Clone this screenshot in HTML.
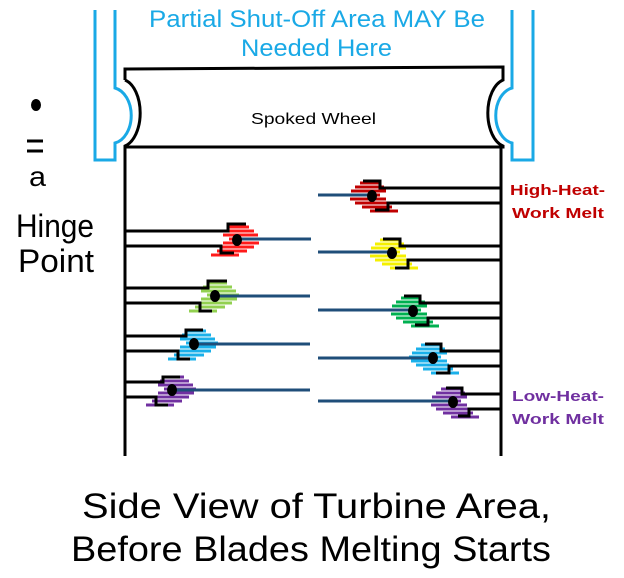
<!DOCTYPE html>
<html><head><meta charset="utf-8"><style>
html,body{margin:0;padding:0;background:#fff;}
svg{display:block;}
</style></head><body>
<svg width="624" height="578" viewBox="0 0 624 578" xmlns="http://www.w3.org/2000/svg" font-family="Liberation Sans, Arial, sans-serif">
<defs>
<g id="h" stroke-width="3">
<line x1="-8" y1="-13" x2="12" y2="-13"/>
<line x1="-12" y1="-9" x2="17" y2="-9"/>
<line x1="-14" y1="-5" x2="21" y2="-5"/>
<line x1="-8" y1="-1" x2="24" y2="-1"/>
<line x1="-14" y1="3" x2="22" y2="3"/>
<line x1="-16" y1="7" x2="17" y2="7"/>
<line x1="-20" y1="11" x2="10" y2="11"/>
<line x1="-26" y1="15" x2="2" y2="15"/>
</g>
</defs>
<g fill="none" stroke="#1aa9e6" stroke-width="3">
<path d="M95 10 V160 H115 V143 A20 28 0 0 0 115 88 V10"/>
<path d="M533 10 V160 H512 V143 A20 28 0 0 1 512 88 V10"/>
</g>
<g fill="none" stroke="#000" stroke-width="3">
<path d="M125 80 V69 L503 67 V80 A20 34 0 0 0 503 146 V147 H125 V146 A20 34 0 0 0 125 80"/>
<line x1="125" y1="147" x2="125" y2="456"/>
<line x1="501" y1="147" x2="501" y2="456"/>
</g>
<use href="#h" x="237" y="240" stroke="#ff1a1a"/>
<use href="#h" x="215" y="296" stroke="#92d050"/>
<use href="#h" x="194" y="344" stroke="#1ab0ea"/>
<use href="#h" x="172" y="390" stroke="#7030a0"/>
<g transform="translate(372,196) scale(-1,1)"><use href="#h" stroke="#c00000"/></g>
<g transform="translate(392,253) scale(-1,1)"><use href="#h" stroke="#f5f000"/></g>
<g transform="translate(413,311) scale(-1,1)"><use href="#h" stroke="#00b050"/></g>
<g transform="translate(433,358) scale(-1,1)"><use href="#h" stroke="#1ab0ea"/></g>
<g transform="translate(453,402) scale(-1,1)"><use href="#h" stroke="#7030a0"/></g>
<g stroke="#1f4e79" stroke-width="3">
<line x1="237" y1="239" x2="311" y2="239"/>
<line x1="215" y1="296" x2="310" y2="296"/>
<line x1="194" y1="344" x2="310" y2="344"/>
<line x1="172" y1="390" x2="310" y2="390"/>
<line x1="318" y1="195" x2="372" y2="195"/>
<line x1="318" y1="252" x2="392" y2="252"/>
<line x1="318" y1="310" x2="413" y2="310"/>
<line x1="318" y1="358" x2="433" y2="358"/>
<line x1="318" y1="401" x2="453" y2="401"/>
</g>
<g fill="none" stroke="#000" stroke-width="3">
<path d="M125 231 H228 V224 H246"/><path d="M125 246 H221 V253 H234"/>
<path d="M125 288 H208 V281 H227"/><path d="M125 303 H200 V311 H212"/>
<path d="M125 336 H186 V330 H203"/><path d="M125 351 H178 V359 H190"/>
<path d="M125 382 H163 V377 H180"/><path d="M125 397 H156 V405 H168"/>
<path d="M501 188 H380 V181 H363"/><path d="M501 203 H388 V210 H375"/>
<path d="M501 246 H400 V239 H383"/><path d="M501 260 H408 V268 H395"/>
<path d="M501 303 H420 V296 H404"/><path d="M501 318 H428 V325 H415"/>
<path d="M501 351 H441 V344 H425"/><path d="M501 366 H449 V373 H436"/>
<path d="M501 394 H462 V388 H446"/><path d="M501 409 H469 V416 H458"/>
</g>
<g fill="#000">
<ellipse cx="237" cy="240" rx="5" ry="6"/>
<ellipse cx="215" cy="296" rx="5" ry="6"/>
<ellipse cx="194" cy="344" rx="5" ry="6"/>
<ellipse cx="172" cy="390" rx="5" ry="6"/>
<ellipse cx="372" cy="196" rx="5" ry="6"/>
<ellipse cx="392" cy="253" rx="5" ry="6"/>
<ellipse cx="413" cy="311" rx="5" ry="6"/>
<ellipse cx="433" cy="358" rx="5" ry="6"/>
<ellipse cx="453" cy="402" rx="5" ry="6"/>
<ellipse cx="36" cy="105" rx="5" ry="6"/>
</g>
<text x="149" y="27" font-size="24" fill="#1aa9e6" textLength="336" lengthAdjust="spacingAndGlyphs">Partial Shut-Off Area MAY Be</text>
<text x="241" y="56" font-size="24" fill="#1aa9e6" textLength="151" lengthAdjust="spacingAndGlyphs">Needed Here</text>
<text x="251" y="124" font-size="16" fill="#000" textLength="125" lengthAdjust="spacingAndGlyphs">Spoked Wheel</text>
<g stroke="#000" stroke-width="3"><line x1="27" y1="141" x2="43" y2="141"/><line x1="27" y1="151" x2="43" y2="151"/></g>
<text x="29" y="186" font-size="28" textLength="17" lengthAdjust="spacingAndGlyphs">a</text>
<text x="16" y="237" font-size="32" textLength="78" lengthAdjust="spacingAndGlyphs">Hinge</text>
<text x="18" y="272" font-size="32" textLength="76" lengthAdjust="spacingAndGlyphs">Point</text>
<text x="510" y="195" font-size="15" font-weight="bold" fill="#c00000" textLength="95" lengthAdjust="spacingAndGlyphs">High-Heat-</text>
<text x="512" y="218" font-size="15" font-weight="bold" fill="#c00000" textLength="92" lengthAdjust="spacingAndGlyphs">Work Melt</text>
<text x="512" y="401" font-size="15" font-weight="bold" fill="#7030a0" textLength="92" lengthAdjust="spacingAndGlyphs">Low-Heat-</text>
<text x="512" y="424" font-size="15" font-weight="bold" fill="#7030a0" textLength="92" lengthAdjust="spacingAndGlyphs">Work Melt</text>
<text x="82" y="518" font-size="35" textLength="469" lengthAdjust="spacingAndGlyphs">Side View of Turbine Area,</text>
<text x="71" y="561" font-size="35" textLength="480" lengthAdjust="spacingAndGlyphs">Before Blades Melting Starts</text>
</svg>
</body></html>
